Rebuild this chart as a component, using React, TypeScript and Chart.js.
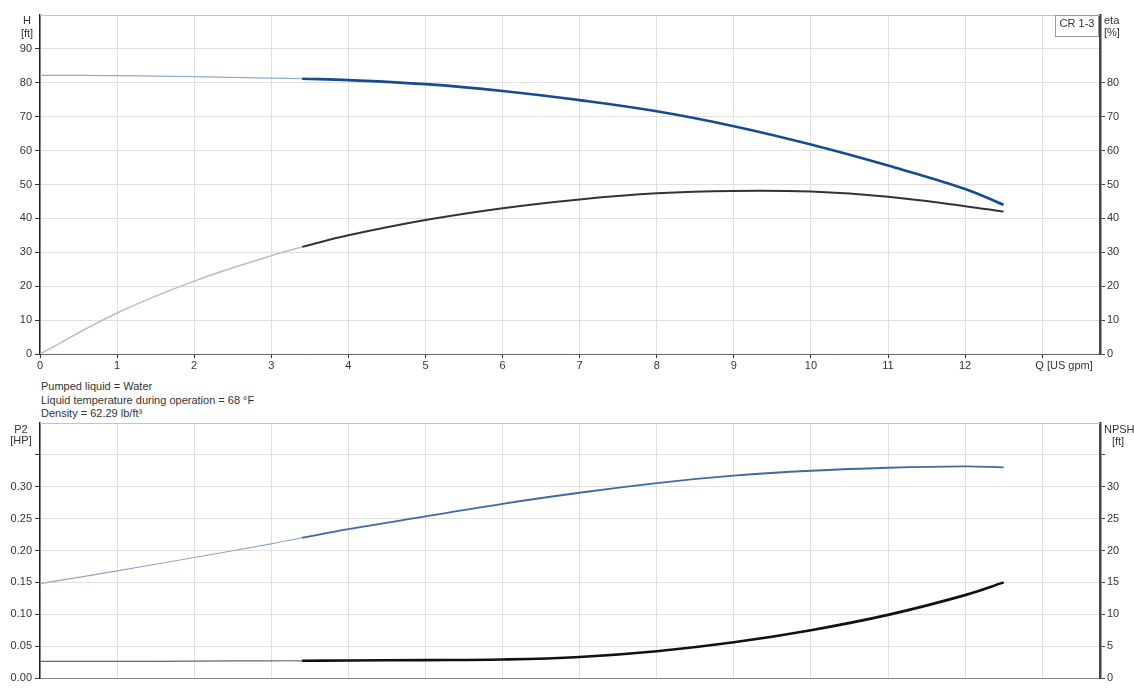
import React, { useEffect, useRef } from "react";
import { Chart, registerables } from "chart.js";

Chart.register(...registerables);

// ---- data ----
const qThin = [0, 1, 2, 3, 3.4];
const qThick = [3.4, 4, 5, 6, 7, 8, 9, 10, 11, 12, 12.5];

const hThin = [82.2, 82.1, 81.8, 81.4, 81.2];
const hThick = [81.2, 80.8, 79.6, 77.6, 74.9, 71.6, 67.2, 61.8, 55.6, 48.7, 44.0];

const etaThin = [0, 12.1, 21.5, 29.0, 31.6];
const etaThick = [31.6, 35.0, 39.5, 43.0, 45.6, 47.4, 48.1, 47.9, 46.4, 43.6, 42.0];

const p2Thin = [0.148, 0.168, 0.189, 0.2105, 0.22];
const p2Thick = [0.22, 0.2335, 0.2534, 0.2733, 0.2906, 0.3058, 0.3173, 0.3251, 0.3298, 0.3319, 0.3303];

const npshThin = [2.6, 2.6, 2.65, 2.7, 2.7];
const npshThick = [2.7, 2.75, 2.8, 2.9, 3.3, 4.2, 5.6, 7.5, 9.9, 13.0, 15.0];

const qTicks = [0, 1, 2, 3, 4, 5, 6, 7, 8, 9, 10, 11, 12, 13];
const hTicks = [0, 10, 20, 30, 40, 50, 60, 70, 80, 90];
const etaTicks = [0, 10, 20, 30, 40, 50, 60, 70, 80];
const p2Ticks = [0, 0.05, 0.1, 0.15, 0.2, 0.25, 0.3, 0.35];
const npshTicks = [0, 5, 10, 15, 20, 25, 30, 35];

const infoLines = [
  "Pumped liquid = Water",
  "Liquid temperature during operation = 68 °F",
  "Density = 62.29 lb/ft³",
];

const FONT = "'Liberation Sans', Arial, sans-serif";
const GRID = "#e0e0e0";
const TXT = "#333";

const pts = (xs: number[], ys: number[]) => xs.map((x, i) => ({ x, y: ys[i] }));

const setTicks = (vals: number[]) => (scale: any) => {
  scale.ticks = vals.map((v) => ({ value: v }));
};

function line(data: any[], color: string, width: number, axis: string) {
  return {
    data,
    borderColor: color,
    borderWidth: width,
    pointRadius: 0,
    fill: false,
    tension: 0.4,
    yAxisID: axis,
  };
}

function drawText(ctx: CanvasRenderingContext2D, t: string, x: number, y: number, align: CanvasTextAlign) {
  ctx.textAlign = align;
  ctx.textBaseline = "middle";
  ctx.fillText(t, x, y);
}

const topPlugin = {
  id: "topDecor",
  afterDraw(chart: any) {
    const { ctx, chartArea } = chart;
    ctx.save();
    ctx.strokeStyle = "#c4c4c4";
    ctx.lineWidth = 1;
    ctx.beginPath();
    ctx.moveTo(chartArea.left, chartArea.top + 0.5);
    ctx.lineTo(chartArea.right, chartArea.top + 0.5);
    ctx.stroke();
    ctx.fillStyle = TXT;
    ctx.font = `11px ${FONT}`;
    drawText(ctx, "H", 27, 21, "center");
    drawText(ctx, "[ft]", 27, 34, "center");
    drawText(ctx, "eta", 1104, 21, "left");
    drawText(ctx, "[%]", 1104, 33, "left");
    // legend box
    ctx.fillStyle = "#fff";
    ctx.fillRect(1055.5, 15.5, 43, 21);
    ctx.strokeStyle = "#999";
    ctx.strokeRect(1055.5, 15.5, 43, 21);
    ctx.fillStyle = TXT;
    drawText(ctx, "CR 1-3", 1077, 24, "center");
    drawText(ctx, "Q [US gpm]", 1064, 366, "center");
    ctx.restore();
  },
};

const bottomPlugin = {
  id: "bottomDecor",
  afterDraw(chart: any) {
    const { ctx, chartArea } = chart;
    ctx.save();
    ctx.strokeStyle = "#c4c4c4";
    ctx.lineWidth = 1;
    ctx.beginPath();
    ctx.moveTo(chartArea.left, chartArea.top + 0.5);
    ctx.lineTo(chartArea.right, chartArea.top + 0.5);
    ctx.stroke();
    ctx.fillStyle = TXT;
    ctx.font = `11px ${FONT}`;
    drawText(ctx, "P2", 21, 30, "center");
    drawText(ctx, "[HP]", 21, 41, "center");
    drawText(ctx, "NPSH", 1104, 30, "left");
    drawText(ctx, "[ft]", 1118, 42, "center");
    ctx.restore();
  },
};

const tickFont = { family: FONT, size: 11 };

export default function App() {
  const topRef = useRef<HTMLCanvasElement>(null);
  const botRef = useRef<HTMLCanvasElement>(null);

  useEffect(() => {
    const top = new Chart(topRef.current!, {
      type: "line",
      data: {
        datasets: [
          line(pts(qThin, hThin), "#8eabd0", 1.2, "yH"),
          line(pts(qThick, hThick), "#164c8e", 2.6, "yH"),
          line(pts(qThin, etaThin), "#bdbdbd", 1.5, "yEta"),
          line(pts(qThick, etaThick), "#333333", 2, "yEta"),
        ] as any,
      },
      options: {
        responsive: false,
        animation: false,
        devicePixelRatio: 1,
        layout: { padding: { top: 15, left: 0, right: 0, bottom: 0 } },
        plugins: { legend: { display: false }, tooltip: { enabled: false } },
        scales: {
          x: {
            type: "linear",
            min: 0,
            max: 13.75,
            afterBuildTicks: setTicks(qTicks),
            afterFit: (s: any) => { s.height = 26; },
            grid: { color: GRID, tickColor: "#333", tickLength: 4 },
            border: { color: "#666", width: 1 },
            ticks: {
              font: tickFont,
              color: TXT,
              padding: 1,
              maxRotation: 0,
              autoSkip: false,
              callback: (v: any) => (v === 13 ? "" : String(v)),
            },
          },
          yH: {
            type: "linear",
            position: "left",
            min: 0,
            max: 100,
            afterBuildTicks: setTicks(hTicks),
            afterFit: (s: any) => { s.width = 40; },
            grid: { color: GRID, tickColor: "#333", tickLength: 5 },
            border: { color: "#222", width: 1.5 },
            ticks: { font: tickFont, color: TXT, padding: 3, autoSkip: false },
          },
          yEta: {
            type: "linear",
            position: "right",
            min: 0,
            max: 100,
            afterBuildTicks: setTicks(etaTicks),
            afterFit: (s: any) => { s.width = 34; },
            grid: { drawOnChartArea: false, tickColor: "#444", tickLength: 5 },
            border: { color: "#444", width: 2.5 },
            ticks: { font: tickFont, color: TXT, padding: 2, autoSkip: false },
          },
        },
      } as any,
      plugins: [topPlugin],
    });

    const bot = new Chart(botRef.current!, {
      type: "line",
      data: {
        datasets: [
          line(pts(qThin, p2Thin), "#8ea6c9", 1.2, "yP"),
          line(pts(qThick, p2Thick), "#3e6aa3", 1.8, "yP"),
          line(pts(qThin, npshThin), "#666666", 1.2, "yN"),
          line(pts(qThick, npshThick), "#111111", 2.6, "yN"),
        ] as any,
      },
      options: {
        responsive: false,
        animation: false,
        devicePixelRatio: 1,
        layout: { padding: { top: 23, left: 0, right: 0, bottom: 0 } },
        plugins: { legend: { display: false }, tooltip: { enabled: false } },
        scales: {
          x: {
            type: "linear",
            min: 0,
            max: 13.75,
            afterBuildTicks: setTicks(qTicks),
            afterFit: (s: any) => { s.height = 22; },
            grid: { color: GRID, drawTicks: false },
            border: { color: "#888", width: 1 },
            ticks: { display: false },
          },
          yP: {
            type: "linear",
            position: "left",
            min: 0,
            max: 0.4,
            afterBuildTicks: setTicks(p2Ticks),
            afterFit: (s: any) => { s.width = 40; },
            grid: { color: GRID, tickColor: "#333", tickLength: 5 },
            border: { color: "#222", width: 1.5 },
            ticks: {
              font: tickFont,
              color: TXT,
              padding: 3,
              autoSkip: false,
              callback: (v: any) => (Math.abs(v - 0.35) < 1e-6 ? "" : Number(v).toFixed(2)),
            },
          },
          yN: {
            type: "linear",
            position: "right",
            min: 0,
            max: 40,
            afterBuildTicks: setTicks(npshTicks),
            afterFit: (s: any) => { s.width = 34; },
            grid: { drawOnChartArea: false, tickColor: "#444", tickLength: 5 },
            border: { color: "#444", width: 2.5 },
            ticks: {
              font: tickFont,
              color: TXT,
              padding: 2,
              autoSkip: false,
              callback: (v: any) => (v === 35 ? "" : String(v)),
            },
          },
        },
      } as any,
      plugins: [bottomPlugin],
    });

    return () => {
      top.destroy();
      bot.destroy();
    };
  }, []);

  return (
    <div style={{ position: "absolute", left: 0, top: 0, width: 1134, height: 700, background: "#fff" }}>
      <canvas ref={topRef} width={1134} height={380} style={{ position: "absolute", left: 0, top: 0 }} />
      <div
        style={{
          position: "absolute",
          left: 41,
          top: 380,
          fontFamily: FONT,
          fontSize: 11,
          lineHeight: "13.5px",
          color: TXT,
        }}
      >
        {infoLines.map((t) => (
          <div key={t}>{t}</div>
        ))}
      </div>
      <canvas ref={botRef} width={1134} height={300} style={{ position: "absolute", left: 0, top: 400 }} />
    </div>
  );
}
